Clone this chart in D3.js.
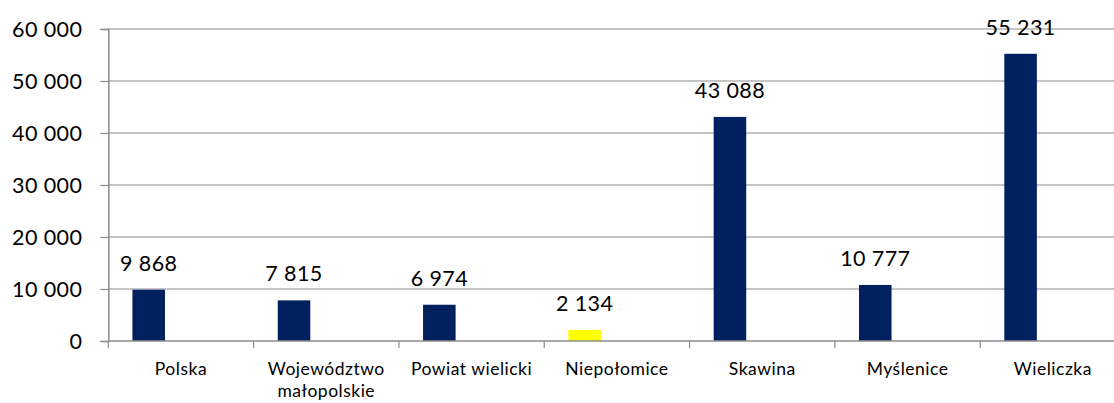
<!DOCTYPE html>
<html><head><meta charset="utf-8">
<script src="https://cdn.jsdelivr.net/npm/d3@7"></script>
<style>html,body{margin:0;padding:0;background:#fff;}svg{display:block;}</style>
</head><body>
<svg id="c" width="1114" height="403"></svg>
<script>
const categories = ["Polska", "Województwo małopolskie", "Powiat wielicki", "Niepołomice", "Skawina", "Myślenice", "Wieliczka"];
const values = [9868, 7815, 6974, 2134, 43088, 10777, 55231];
const barColors = ["#002060", "#002060", "#002060", "#FFFF00", "#002060", "#002060", "#002060"];
const yTicks = [0, 10000, 20000, 30000, 40000, 50000, 60000];

(function(){
const svg = d3.select("#c");
const pLeft = 108.3, pRight = 1125.5, pTop = 29, pBottom = 341;
const font = "Lato, 'Open Sans', sans-serif";
const fmt = v => d3.format(",")(v).replace(/,/g, " ");

const x = d3.scaleBand().domain(categories).range([pLeft, pRight]).padding(0);
const y = d3.scaleLinear().domain([0, 60000]).range([pBottom, pTop]);

// gridlines
svg.append("g").selectAll("line").data(yTicks.filter(d => d > 0)).join("line")
  .attr("x1", pLeft).attr("x2", pRight)
  .attr("y1", d => y(d)).attr("y2", d => y(d))
  .attr("stroke", "#8c8c8c").attr("stroke-width", 1.2);

// y axis
const yAxis = svg.append("g").attr("transform", `translate(${pLeft},0)`)
  .call(d3.axisLeft(y).tickValues(yTicks).tickSize(8).tickPadding(18).tickFormat(fmt));
yAxis.select(".domain").attr("stroke", "#8c8c8c").attr("stroke-width", 1.5);
yAxis.selectAll(".tick line").attr("stroke", "#8c8c8c").attr("stroke-width", 1.2);
yAxis.selectAll(".tick text").attr("font-family", font).attr("font-size", 21.5).attr("letter-spacing", 0.4).attr("fill", "#000").attr("dy", "0.35em");

// bars
const bw = x.bandwidth() * 0.224, off = x.bandwidth() * 0.166;
svg.append("g").selectAll("rect").data(categories).join("rect")
  .attr("x", (d) => x(d) + off)
  .attr("width", bw)
  .attr("y", (d, i) => y(values[i]))
  .attr("height", (d, i) => y(0) - y(values[i]))
  .attr("fill", (d, i) => barColors[i]);

// value labels
svg.append("g").selectAll("text").data(categories).join("text")
  .attr("x", d => x(d) + off + bw / 2)
  .attr("y", (d, i) => y(values[i]) - 19)
  .attr("text-anchor", "middle")
  .attr("font-family", font).attr("font-size", 21.5).attr("letter-spacing", 0.4).attr("fill", "#000")
  .text((d, i) => fmt(values[i]));

// x axis
const xg = svg.append("g");
xg.append("line").attr("x1", pLeft).attr("x2", pRight).attr("y1", pBottom).attr("y2", pBottom)
  .attr("stroke", "#8c8c8c").attr("stroke-width", 1.5);
xg.selectAll("line.t").data(categories).join("line").attr("class", "t")
  .attr("x1", d => x(d)).attr("x2", d => x(d))
  .attr("y1", pBottom).attr("y2", pBottom + 7)
  .attr("stroke", "#8c8c8c").attr("stroke-width", 1.2);

const labelLines = {"Województwo małopolskie": ["Województwo", "małopolskie"]};
xg.selectAll("text.c").data(categories).join("text").attr("class", "c")
  .attr("text-anchor", "middle")
  .attr("font-family", font).attr("font-size", 17.5).attr("letter-spacing", 0.5).attr("fill", "#000")
  .each(function(d) {
    const lines = labelLines[d] || [d];
    const t = d3.select(this);
    lines.forEach((l, i) => {
      t.append("tspan").attr("x", x(d) + x.bandwidth() / 2).attr("y", 375 + i * 22).text(l);
    });
  });
})();
</script>
</body></html>
